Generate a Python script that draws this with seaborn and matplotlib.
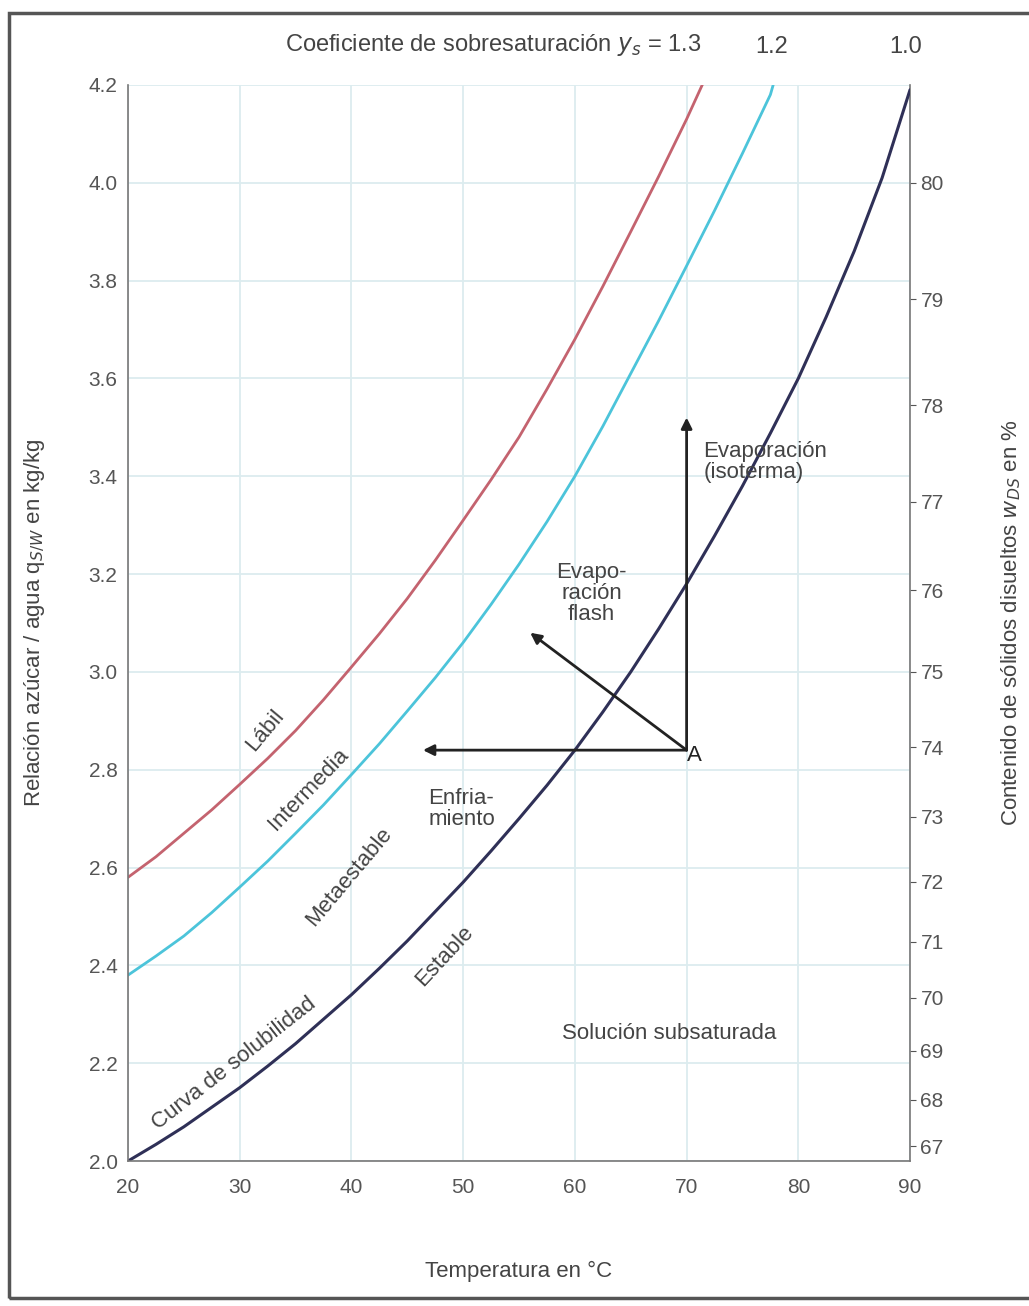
import numpy as np
import pandas as pd
import matplotlib
matplotlib.use('Agg')
import matplotlib.pyplot as plt
import seaborn as sns
from matplotlib.patches import Rectangle

sns.set_style('white')
plt.rcParams['font.family'] = ['Liberation Sans', 'DejaVu Sans']

# values (temperature in degC, sugar/water ratio in kg/kg)
temp_sat = [20, 22.5, 25, 27.5, 30, 32.5, 35, 37.5, 40, 42.5, 45, 47.5, 50, 52.5, 55,
            57.5, 60, 62.5, 65, 67.5, 70, 72.5, 75, 77.5, 80, 82.5, 85, 87.5, 90]
q_sat = [2.00, 2.034, 2.07, 2.11, 2.15, 2.194, 2.24, 2.29, 2.34, 2.394, 2.45, 2.51, 2.57,
         2.634, 2.70, 2.768, 2.84, 2.918, 3.00, 3.088, 3.18, 3.278, 3.38, 3.488, 3.60,
         3.726, 3.86, 4.01, 4.19]

temp_12 = [20, 22.5, 25, 27.5, 30, 32.5, 35, 37.5, 40, 42.5, 45, 47.5, 50, 52.5, 55,
           57.5, 60, 62.5, 65, 67.5, 70, 72.5, 75, 77.5, 78]
q_12 = [2.38, 2.419, 2.46, 2.508, 2.56, 2.613, 2.67, 2.728, 2.79, 2.853, 2.92, 2.988,
        3.06, 3.138, 3.22, 3.307, 3.40, 3.502, 3.61, 3.718, 3.83, 3.943, 4.06, 4.18, 4.22]

temp_13 = [20, 22.5, 25, 27.5, 30, 32.5, 35, 37.5, 40, 42.5, 45, 47.5, 50, 52.5, 55,
           57.5, 60, 62.5, 65, 67.5, 70, 72]
q_13 = [2.58, 2.622, 2.67, 2.718, 2.77, 2.823, 2.88, 2.943, 3.01, 3.078, 3.15, 3.228,
        3.31, 3.393, 3.48, 3.578, 3.68, 3.788, 3.90, 4.013, 4.13, 4.23]

x_ticks = [20, 30, 40, 50, 60, 70, 80, 90]
y_ticks = [2.0, 2.2, 2.4, 2.6, 2.8, 3.0, 3.2, 3.4, 3.6, 3.8, 4.0, 4.2]
w_ticks = [67, 68, 69, 70, 71, 72, 73, 74, 75, 76, 77, 78, 79, 80]

point_a = (70, 2.84)
cool_end = (46.4, 2.84)
flash_end = (56.0, 3.08)
evap_end = (70, 3.52)

fig = plt.figure(figsize=(10.29, 13.06), dpi=100)
ax = fig.add_axes([0.1244, 0.111, 0.760, 0.824])

grid_col = '#dcecef'
for xv in x_ticks:
    ax.axvline(xv, color=grid_col, lw=1.3, zorder=0)
for yv in y_ticks:
    ax.axhline(yv, color=grid_col, lw=1.3, zorder=0)

sns.lineplot(x=temp_13, y=q_13, ax=ax, color='#c4636f', lw=2)
sns.lineplot(x=temp_12, y=q_12, ax=ax, color='#4cc4da', lw=2)
sns.lineplot(x=temp_sat, y=q_sat, ax=ax, color='#2f3057', lw=2.2)

ax.set_xlim(20, 90)
ax.set_ylim(2.0, 4.2)
ax.set_xticks(x_ticks)
ax.set_yticks(y_ticks)
ax.set_yticklabels([f'{v:.1f}' for v in y_ticks])
ax.tick_params(axis='both', labelsize=15, colors='#555555', length=4, width=1,
               direction='out')
ax.tick_params(axis='x', pad=8)
for lab in ax.get_xticklabels() + ax.get_yticklabels():
    lab.set_color('#555555')

for s in ['left', 'bottom']:
    ax.spines[s].set_color('#777777')
    ax.spines[s].set_linewidth(1.2)
ax.spines['top'].set_visible(False)
ax.spines['right'].set_visible(False)

sec = ax.secondary_yaxis('right', functions=(lambda q: 100 * q / (1 + q),
                                             lambda w: w / (100 - w)))
sec.set_yticks(w_ticks)
sec.tick_params(labelsize=15, colors='#555555', length=4)
sec.spines['right'].set_color('#777777')
sec.spines['right'].set_linewidth(1.2)
sec.set_ylabel('Contenido de sólidos disueltos $w_{DS}$ en %', fontsize=16,
               color='#444444', labelpad=40)

ax.set_xlabel('Temperatura en °C', fontsize=16, color='#444444', labelpad=46)
ax.set_ylabel('Relación azúcar / agua q$_{S/W}$ en kg/kg', fontsize=16,
              color='#444444', labelpad=30)

# process arrows from point A
arrow_kw = dict(arrowstyle='-|>', color='#222222', lw=2, mutation_scale=16,
                shrinkA=0, shrinkB=0)
ax.annotate('', xy=cool_end, xytext=point_a, arrowprops=arrow_kw)
ax.annotate('', xy=flash_end, xytext=point_a, arrowprops=arrow_kw)
ax.annotate('', xy=evap_end, xytext=point_a, arrowprops=arrow_kw)
ax.text(point_a[0] + 0.05, point_a[1] - 0.01, 'A', fontsize=16, color='#222222',
        ha='left', va='center')

txt = dict(fontsize=16, color='#444444')
ax.text(71.5, 3.43, 'Evaporación\n(isoterma)', ha='left', va='center',
        linespacing=1.0, **txt)
ax.text(61.5, 3.16, 'Evapo-\nración\nflash', ha='center', va='center',
        linespacing=1.0, **txt)
ax.text(46.9, 2.72, 'Enfria-\nmiento', ha='left', va='center',
        linespacing=1.0, **txt)
ax.text(68.4, 2.26, 'Solución subsaturada', ha='center', va='center', **txt)

ax.text(32.3, 2.88, 'Lábil', rotation=50, ha='center', va='center', **txt)
ax.text(36.2, 2.76, 'Intermedia', rotation=46, ha='center', va='center', **txt)
ax.text(39.8, 2.58, 'Metaestable', rotation=50, ha='center', va='center', **txt)
ax.text(29.5, 2.20, 'Curva de solubilidad', rotation=38, ha='center', va='center', **txt)
ax.text(48.3, 2.42, 'Estable', rotation=47, ha='center', va='center', **txt)

# supersaturation coefficients above the plot
ax.text(71.3, 4.255, 'Coeficiente de sobresaturación $y_s$ = 1.3', ha='right',
        va='bottom', fontsize=17, color='#444444', clip_on=False)
ax.text(77.6, 4.255, '1.2', ha='center', va='bottom', fontsize=17,
        color='#444444', clip_on=False)
ax.text(89.6, 4.255, '1.0', ha='center', va='bottom', fontsize=17,
        color='#444444', clip_on=False)

fig.patches.append(Rectangle((0.009, 0.006), 1.2, 0.984, transform=fig.transFigure,
                             fill=False, edgecolor='#555555', lw=2.5))

fig.savefig('out.png', dpi=100)
